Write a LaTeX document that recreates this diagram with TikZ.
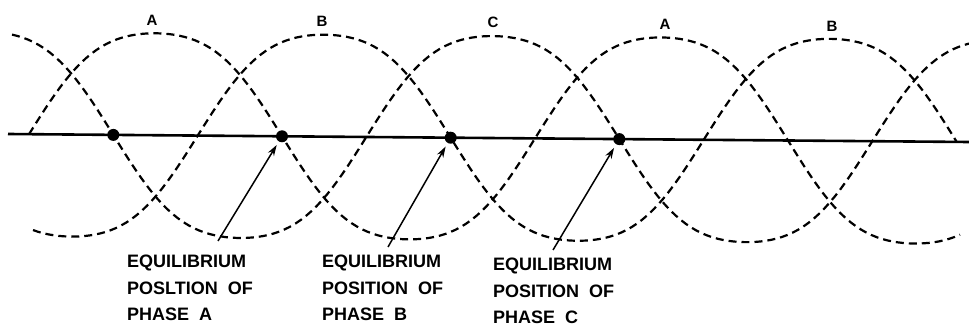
\documentclass[tikz,border=0pt]{standalone}
\usepackage{fontspec}
\setmainfont{Liberation Sans}
\usetikzlibrary{arrows.meta}

\begin{document}
\begin{tikzpicture}[x=1pt,y=-1pt,
  declare function={wv(\x,\p)=134+0.00826*\x-102*(1.0667*cos(0.71146*(\x-\p))-0.0667*cos(2.13439*(\x-\p)));},
  wave/.style={line width=2.2pt,dash pattern=on 8pt off 5pt},
  eqdot/.style={circle,fill,inner sep=0pt,minimum size=12pt},
  eqtext/.style={anchor=north west,align=left,inner sep=0pt,font=\fontsize{18}{26.5}\selectfont\bfseries},
  phase/.style={font=\fontsize{15}{15}\selectfont\bfseries},
  arr/.style={line width=1.5pt,-{Stealth[length=11pt,width=7pt]},shorten >=4pt}]
  \useasboundingbox (0,0) rectangle (969,331);
  \draw[line width=2.6pt] (8,134) -- (969,142);
  \draw[wave] plot[domain=29:960,samples=180] (\x,{wv(\x,155.5)});
  \draw[wave] plot[domain=33:957,samples=180] (\x,{wv(\x,324.2)});
  \draw[wave] plot[domain=12:969,samples=180] (\x,{wv(\x,-13.2)});
  \node[phase] (pA1) at (152,20) {A};
  \node[phase] (pB1) at (322,21) {B};
  \node[phase] (pC1) at (493,22) {C};
  \node[phase] (pA2) at (665,24) {A};
  \node[phase] (pB2) at (832,26) {B};
  \node[eqdot] (dC0) at (113.3,134.9) {};
  \node[eqdot] (dA) at (282,136.3) {};
  \node[eqdot] (dB) at (450.7,137.7) {};
  \node[eqdot] (dC) at (619.3,139.1) {};
  \node[eqtext] (eqA) at (127,255) {EQUILIBRIUM\\POSLTION~~OF\\PHASE~~A};
  \node[eqtext] (eqB) at (322,255) {EQUILIBRIUM\\POSITION~~OF\\PHASE~~B};
  \node[eqtext] (eqC) at (493,258) {EQUILIBRIUM\\POSITION~~OF\\PHASE~~C};
  \coordinate (tA) at (218,241);
  \coordinate (tB) at (388,247);
  \coordinate (tC) at (553,250);
  \draw[arr] (tA) -- (dA);
  \draw[arr] (tB) -- (dB);
  \draw[arr] (tC) -- (dC);
\end{tikzpicture}
\end{document}
